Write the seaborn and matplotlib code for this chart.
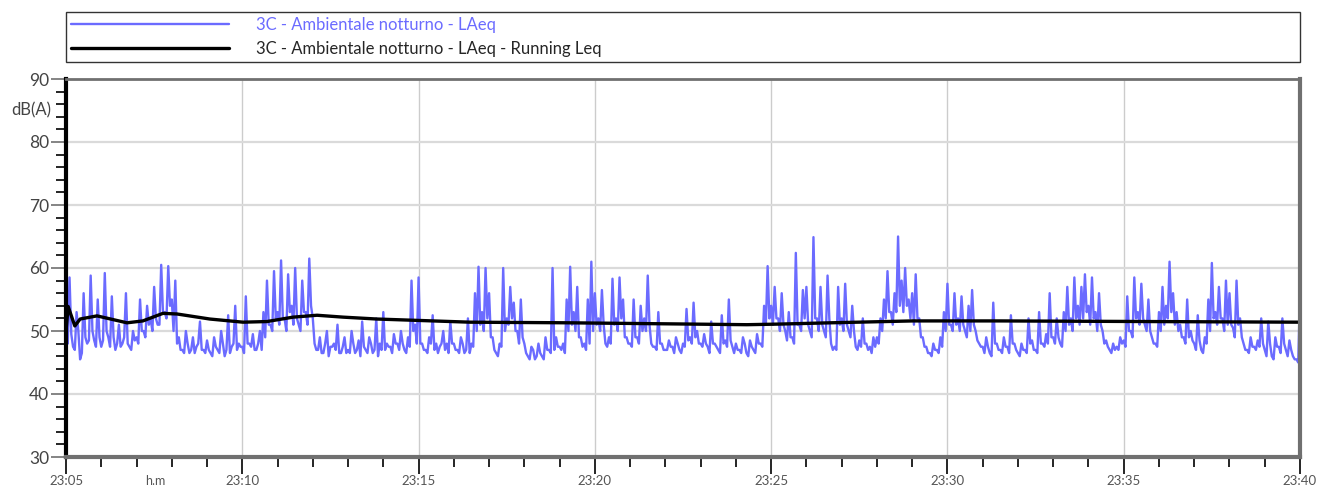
import matplotlib
matplotlib.use('Agg')
import matplotlib.pyplot as plt
from matplotlib.ticker import MultipleLocator
import numpy as np
import pandas as pd
import seaborn as sns

# LAeq peaks, 10 per minute (every 6 s), one row per minute from 23:05
laeq_peaks = [
    [49, 58.5, 47.5, 53, 45.5, 56, 48, 58.8, 48.5, 55],        # 23:05
    [47.5, 59.2, 49, 55.5, 47, 51, 48, 56, 47.5, 50],
    [49, 55, 50, 54, 52, 57, 51, 60.5, 53, 60.3],
    [55, 58, 49, 47, 50, 46.5, 49, 47.5, 51.5, 47],
    [48.5, 46.5, 49, 47, 50, 46, 52.5, 47.5, 54, 48],
    [47.5, 55.5, 48, 49.5, 47, 50, 53, 58, 51, 59.5],          # 23:10
    [53, 61.2, 52, 59, 54, 60, 51, 58, 53, 61.5],
    [52, 47, 49, 46.5, 50, 47.5, 48, 51, 46.5, 49],
    [47, 50, 46.5, 48.5, 51.5, 47, 49, 46.5, 52, 48],
    [53, 48, 47.5, 49.5, 48, 50, 47, 49, 58, 51],
    [58.5, 48, 47, 49, 52.5, 48, 47.5, 50, 48, 51.5],          # 23:15
    [48, 47, 49, 46.5, 52, 48, 56, 60.2, 53, 60],
    [56, 49, 46.5, 48, 60, 52, 57, 54.5, 50, 55],
    [48, 46, 47.5, 45.5, 48, 46, 49, 47, 60, 49],
    [47.5, 48, 55, 60.2, 53, 57, 49, 48, 55, 61],
    [56, 52, 56.5, 48, 49, 58.3, 52, 58.5, 55, 49],            # 23:20
    [48, 55, 49, 54, 52, 58.8, 48, 47.5, 53, 48],
    [47, 48.5, 47.5, 49, 47, 48, 53.5, 49, 54.5, 50],
    [48, 49.5, 47.5, 51.5, 48, 47, 52.5, 48.5, 55, 47.5],
    [48, 47, 49, 46.5, 48.5, 47, 49.5, 48, 54, 60.3],
    [54, 57, 52, 56, 50, 53, 49, 62.4, 51, 56.5],              # 23:25
    [57, 50, 64.9, 52, 57, 50, 58.8, 48, 47.5, 57],
    [52, 57.5, 50, 54, 47.5, 48.5, 52, 48, 47.5, 49],
    [49, 52, 55, 59.5, 53, 56, 65, 58, 60, 55],
    [56, 59, 52, 49, 47.5, 46.5, 48, 47, 49, 53],
    [57.5, 51, 56, 52, 55.5, 50, 54, 56.5, 50, 48],            # 23:30
    [47.5, 49, 46.5, 54.5, 48, 47, 49, 47.5, 52.5, 48],
    [46.5, 48, 47, 52, 48.5, 47, 53, 48, 49.5, 56],
    [49, 52, 48, 53, 57, 52, 58.5, 54, 57, 59],
    [54, 58.5, 53, 56, 50, 48.5, 47, 48, 47.5, 49],
    [48.5, 55.5, 50, 58.5, 53, 57.5, 51, 55, 49, 48],          # 23:35
    [53, 57, 54, 61, 56, 53, 51, 49, 55, 50],
    [48, 52.5, 47, 49, 55, 60.8, 53, 57, 52, 58],
    [56, 50.5, 58, 52, 48, 47, 49, 47.5, 48.5, 52],
    [47, 51.5, 46, 49, 47.5, 52, 47, 48.5, 46, 45.5],
]

# LAeq troughs between the peaks above (3 s later)
laeq_troughs = [
    [48, 49.5, 47, 50, 46.5, 49, 48.5, 50, 47.5, 49],          # 23:05
    [48.5, 50, 47.5, 49, 48, 47.5, 49, 48, 47, 48.5],
    [48, 50, 49, 51, 50, 52, 51, 53, 52, 54],
    [50, 48, 47, 46.5, 48, 47, 46.5, 48, 47, 46.5],
    [47, 46, 47.5, 46.5, 48, 47, 46.5, 48, 47, 47.5],
    [46.5, 48, 47.5, 47, 48, 47, 49, 51, 50, 52],              # 23:10
    [51, 52, 50, 53, 51, 52, 50, 53, 51, 54],
    [48, 47, 46.5, 48, 46, 47.5, 47, 46.5, 47.5, 46.5],
    [46.5, 48, 47, 46, 47.5, 46.5, 48, 47, 46, 47],
    [47, 47.5, 46.5, 48, 47, 48, 46.5, 47.5, 50, 48],
    [48, 47, 46.5, 48, 47, 46.5, 48, 47, 46.5, 48],            # 23:15
    [47, 46.5, 48, 47, 46.5, 47.5, 50, 51, 50, 52],
    [49, 47, 46, 47.5, 50, 51, 52, 50, 48, 49],
    [46.5, 45.5, 47, 46, 46.5, 45.5, 47, 46.5, 47, 47.5],
    [47, 46.5, 50, 51, 50, 49, 47.5, 47, 48, 50],
    [51, 50, 51, 47.5, 48, 51, 50, 52, 49, 48],                # 23:20
    [47.5, 49, 48, 50, 50, 51, 47.5, 47, 48, 47],
    [47, 47.5, 46.5, 48, 46.5, 47.5, 48.5, 48, 49, 48],
    [47.5, 48, 46.5, 48, 47.5, 46.5, 48, 47.5, 48.5, 46.5],
    [47, 46.5, 48, 46, 47.5, 46.5, 48, 47.5, 51, 52],
    [51, 52, 50, 51, 48.5, 49, 48, 51, 50, 52],                # 23:25
    [51, 49, 52, 50, 51, 49, 52, 47, 47, 51],
    [50, 51, 49, 50, 47, 47.5, 48, 47, 46.5, 47.5],
    [48, 50, 52, 53, 51, 53, 54, 53, 54, 52],
    [51, 52, 49, 47.5, 46.5, 46, 47, 46.5, 47.5, 50],
    [51, 50, 51, 50, 51, 49, 50, 51, 48.5, 47.5],              # 23:30
    [46.5, 47.5, 46, 48, 47, 46.5, 47.5, 46.5, 48, 47],
    [46, 47, 46.5, 48, 47, 46.5, 48, 47.5, 48, 49],
    [48, 49, 47.5, 50, 51, 50, 52, 51, 52, 53],
    [51, 52, 50, 51, 48, 47.5, 46.5, 47, 47, 48],
    [47.5, 50, 49, 52, 51, 52, 50, 50, 48, 47.5],              # 23:35
    [50, 51, 52, 53, 51, 50, 49, 48, 49, 48.5],
    [47, 48.5, 46.5, 48, 50, 52, 51, 52, 50, 51],
    [51, 49, 51, 49, 47, 46.5, 47.5, 47, 47.5, 48],
    [46, 48, 45.5, 47.5, 46.5, 48, 46, 47, 45.5, 45],
]
laeq_last = 56  # 23:40

# running Leq, minutes after 23:05
leq_minutes = [0, 0.06, 0.25, 0.40, 0.88, 1.73, 2.18, 2.75, 3.15, 4.08, 5.02,
               5.70, 6.44, 7.12, 7.86, 8.82, 11.46, 14.29, 17.70, 19.31,
               20.25, 21.67, 24.02, 26.49, 30.74, 35]
leq_values = [50, 53.9, 50.8, 51.9, 52.4, 51.3, 51.6, 52.8, 52.7, 51.9, 51.4,
              51.5, 52.2, 52.5, 52.2, 51.9, 51.4, 51.3, 51.1, 51.0,
              51.1, 51.3, 51.6, 51.6, 51.5, 51.4]

tick_labels = ['23:05', '23:10', '23:15', '23:20', '23:25', '23:30', '23:35', '23:40']

laeq = []
for prow, trow in zip(laeq_peaks, laeq_troughs):
    for p, t in zip(prow, trow):
        laeq += [p, t]
laeq.append(laeq_last)
df_laeq = pd.DataFrame({'t': np.arange(len(laeq)) / 20.0, 'db': laeq})
df_leq = pd.DataFrame({'t': leq_minutes, 'db': leq_values})

sns.set_style('white')
plt.rcParams['font.family'] = ['Lato', 'DejaVu Sans']

W, H = 1321, 488
fig = plt.figure(figsize=(W / 100, H / 100), dpi=100)
ax = fig.add_axes([66 / W, (H - 457) / H, 1234 / W, 378 / H])

blue = '#6b6bff'
sns.lineplot(data=df_laeq, x='t', y='db', ax=ax, color=blue, lw=1.7,
             label='3C - Ambientale notturno - LAeq', estimator=None)
sns.lineplot(data=df_leq, x='t', y='db', ax=ax, color='black', lw=2.4,
             label='3C - Ambientale notturno - LAeq - Running Leq', estimator=None)

ax.set_xlim(0, 35)
ax.set_ylim(30, 90)
ax.set_xticks(np.arange(0, 36, 5))
ax.set_xticklabels(tick_labels)
ax.xaxis.set_minor_locator(MultipleLocator(1))
ax.set_yticks(np.arange(30, 91, 10))
ax.yaxis.set_minor_locator(MultipleLocator(2))

ax.grid(True, which='major', axis='y', color='#dadada', lw=1.6)
ax.grid(True, which='major', axis='x', color='#cccccc', lw=1.0)
ax.set_axisbelow(True)

ax.tick_params(axis='y', which='major', length=11, width=1.2, color='#707070',
               labelsize=12.5, labelcolor='#444444', pad=1, direction='out')
ax.tick_params(axis='y', which='minor', length=7, width=1.2, color='black', direction='out')
ax.tick_params(axis='x', which='major', length=12, width=1.2, color='black',
               labelsize=9.5, labelcolor='#555555', pad=1, direction='out')
ax.tick_params(axis='x', which='minor', length=7, width=1.2, color='black', direction='out')
ax.tick_params(left=True, bottom=True, which='both')

ax.spines['left'].set_color('black')
ax.spines['left'].set_linewidth(3)
for s in ['bottom', 'right']:
    ax.spines[s].set_color('#707070')
    ax.spines[s].set_linewidth(3)
ax.spines['top'].set_color('#707070')
ax.spines['top'].set_linewidth(2)

ax.set_ylabel('dB(A)', rotation=0, fontsize=12, color='#444444', ha='center', va='center')
ax.yaxis.set_label_coords(-0.0284, 0.918)
ax.set_xlabel('h.m', fontsize=9, color='#555555', ha='center', va='center')
ax.xaxis.set_label_coords(0.072, -0.063)

leg = ax.legend(loc='upper left', bbox_to_anchor=(66 / W, (H - 66) / H, 1234 / W, 54 / H),
                bbox_transform=fig.transFigure, mode='expand', borderaxespad=0,
                handlelength=9.5, handletextpad=1.6, fontsize=12, frameon=True,
                fancybox=False, edgecolor='black', labelspacing=0.5, borderpad=0.3)
leg.get_frame().set_linewidth(1)
leg.get_texts()[0].set_color(blue)

fig.savefig('out.png', dpi=100)
